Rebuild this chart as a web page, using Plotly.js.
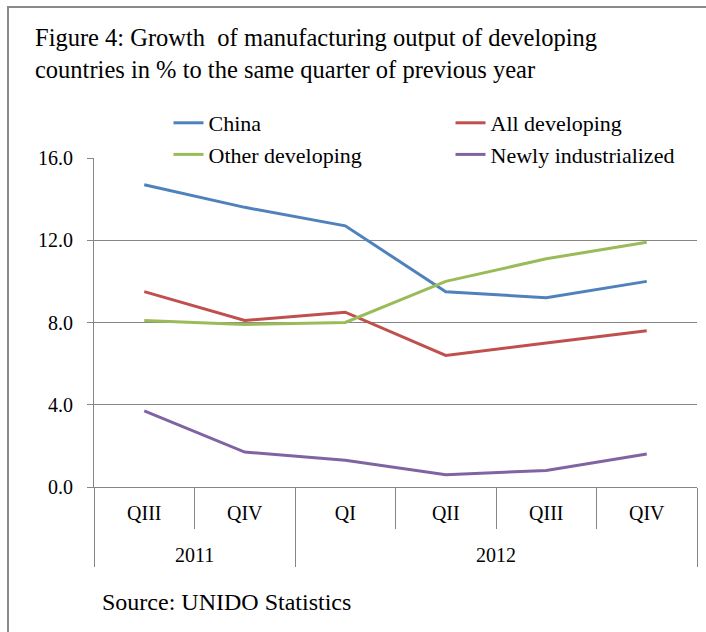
<!DOCTYPE html>
<html>
<head>
<meta charset="utf-8">
<script src="https://cdn.plot.ly/plotly-3.0.1.min.js"></script>
<style>
  html, body { margin: 0; padding: 0; background: #fff; }
  #wrap { position: relative; width: 706px; height: 632px; overflow: hidden; }
  #chart { width: 706px; height: 632px; }
  #frame { position: absolute; left: 7px; top: 6px; width: 699px; height: 626px;
           border-top: 2px solid #8a8a8a; border-left: 2px solid #8a8a8a;
           box-sizing: border-box; pointer-events: none; }
</style>
</head>
<body>
<div id="wrap">
  <div id="chart"></div>
  <div id="frame"></div>
</div>
<script>
// ---- data ----
// year group labels (leading blank line gives the Excel-like gap under the quarters)
var years    = ['\u00a0<br>2011', '\u00a0<br>2011', '\u00a0<br>2012', '\u00a0<br>2012', '\u00a0<br>2012', '\u00a0<br>2012'];
// quarter labels; the 2011 ones carry a zero-width space so that Plotly keeps them
// distinct from the 2012 quarters and preserves chronological order
var quarters = ['QIII\u200b', 'QIV\u200b', 'QI', 'QII', 'QIII', 'QIV'];

var china               = [14.7, 13.6, 12.7, 9.5, 9.2, 10.0];
var allDeveloping       = [9.5, 8.1, 8.5, 6.4, 7.0, 7.6];
var otherDeveloping     = [8.1, 7.9, 8.0, 10.0, 11.1, 11.9];
var newlyIndustrialized = [3.7, 1.7, 1.3, 0.6, 0.8, 1.6];

var titleText = 'Figure 4: Growth\u00a0 of manufacturing output of developing<br>countries in % to the same quarter of previous year';
var sourceText = 'Source: UNIDO Statistics';

var FONT = 'Liberation Serif, Times New Roman, serif';
var x = [years, quarters];

function line(name, y, color) {
  return { type: 'scatter', mode: 'lines', name: name, x: x, y: y,
           line: { color: color, width: 3 }, hoverinfo: 'y' };
}

var data = [
  line('China', china, '#4F81BD'),
  line('All developing', allDeveloping, '#C0504D'),
  line('Other developing', otherDeveloping, '#9BBB59'),
  line('Newly industrialized', newlyIndustrialized, '#8064A2')
];

var layout = {
  width: 706, height: 632,
  margin: { l: 94, r: 9, t: 158, b: 145, pad: 0, autoexpand: false },
  paper_bgcolor: '#ffffff', plot_bgcolor: '#ffffff',
  font: { family: FONT, color: '#000000', size: 19 },
  title: {
    text: titleText,
    font: { family: FONT, size: 24.5, color: '#000000' },
    xref: 'container', x: 35 / 706, xanchor: 'left',
    yref: 'container', y: 1 - 46 / 632, yanchor: 'top'
  },
  showlegend: true,
  legend: {
    orientation: 'h', x: (148 - 94) / 603, xanchor: 'left',
    y: 1 + (158 - 102) / 329, yanchor: 'top',
    bgcolor: '#ffffff', borderwidth: 0,
    entrywidth: 237, entrywidthmode: 'pixels',
    font: { family: FONT, size: 22, color: '#000000' },
    title: { text: '\u00a0\u00a0', side: 'left', font: { family: FONT, size: 21 } },
    traceorder: 'normal'
  },
  xaxis: {
    type: 'multicategory', range: [-0.5, 5.5], autorange: false,
    showline: true, linecolor: '#868686', linewidth: 1,
    ticks: 'outside', tickson: 'boundaries', ticklen: 41, tickcolor: '#868686',
    showdividers: true, dividercolor: '#868686', dividerwidth: 1,
    showgrid: false, zeroline: false, ticklabelstandoff: 8,
    tickfont: { family: FONT, size: 20, color: '#000000' }
  },
  yaxis: {
    range: [0, 16], autorange: false, dtick: 4, tick0: 0, tickformat: '.1f',
    showline: true, linecolor: '#868686', linewidth: 1,
    ticks: 'outside', ticklen: 6, tickcolor: '#868686',
    showgrid: true, gridcolor: '#868686', gridwidth: 1,
    zeroline: false, ticklabelstandoff: 10,
    tickfont: { family: FONT, size: 20, color: '#000000' }
  },
  annotations: [{
    text: sourceText, showarrow: false,
    xref: 'paper', x: (100 - 94) / 603, xanchor: 'left',
    yref: 'paper', y: (487 - 602) / 329, yanchor: 'middle',
    font: { family: FONT, size: 24, color: '#000000' }
  }]
};

Plotly.newPlot('chart', data, layout, { displayModeBar: false, staticPlot: true });
</script>
</body>
</html>
